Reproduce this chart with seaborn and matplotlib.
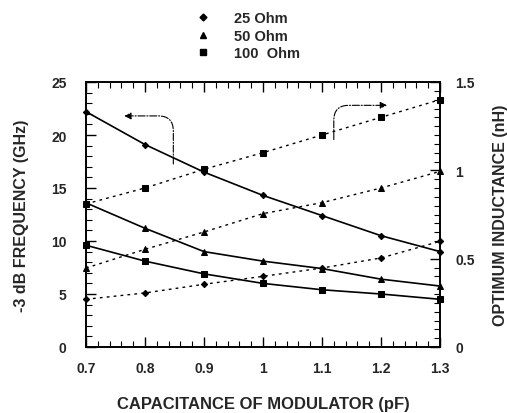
import matplotlib
matplotlib.use("Agg")
import matplotlib.pyplot as plt
import seaborn as sns
import pandas as pd
from matplotlib.lines import Line2D
from matplotlib.ticker import MultipleLocator

# ---- data ----
capacitance = [0.7, 0.8, 0.9, 1.0, 1.1, 1.2, 1.3]
series_names = ["25 Ohm", "50 Ohm", "100  Ohm"]
freq_25 = [22.2, 19.1, 16.5, 14.3, 12.4, 10.5, 9.0]
freq_50 = [13.6, 11.2, 9.0, 8.1, 7.4, 6.4, 5.75]
freq_100 = [9.6, 8.1, 6.9, 6.0, 5.4, 5.0, 4.5]
ind_25 = [0.27, 0.306, 0.355, 0.40, 0.447, 0.504, 0.598]
ind_50 = [0.447, 0.553, 0.651, 0.755, 0.817, 0.90, 0.994]
ind_100 = [0.81, 0.90, 1.006, 1.10, 1.20, 1.30, 1.40]
x_ticks = [0.7, 0.8, 0.9, 1.0, 1.1, 1.2, 1.3]
x_tick_labels = ["0.7", "0.8", "0.9", "1", "1.1", "1.2", "1.3"]
left_ticks = [0, 5, 10, 15, 20, 25]
right_ticks = [0, 0.5, 1, 1.5]
right_tick_labels = ["0", "0.5", "1", "1.5"]

sns.set_theme(style="white")
plt.rcParams['font.family'] = ['Liberation Sans', 'DejaVu Sans']
plt.rcParams['font.weight'] = 'bold'

fig = plt.figure(figsize=(5.07, 4.14), dpi=100)
ax = fig.add_axes([86/507, 1-348/414, (440-86)/507, (348-83)/414])
ax2 = ax.twinx()

markers = ["D", "^", "s"]
msizes = [3.2, 4.5, 4.8]
freqs = [freq_25, freq_50, freq_100]
inds = [ind_25, ind_50, ind_100]

for f, m, ms in zip(freqs, markers, msizes):
    df = pd.DataFrame({"C": capacitance, "F": f})
    sns.lineplot(data=df, x="C", y="F", ax=ax, color="black", marker=m,
                 markersize=ms, markeredgecolor="black", linewidth=1.2,
                 linestyle="-", clip_on=False)
for ind, m, ms in zip(inds, markers, msizes):
    df = pd.DataFrame({"C": capacitance, "L": ind})
    sns.lineplot(data=df, x="C", y="L", ax=ax2, color="black", marker=m,
                 markersize=ms, markeredgecolor="black", linewidth=1.0,
                 linestyle=(0, (2, 3)), clip_on=False)

ax.set_xlim(0.7, 1.3)
ax.set_ylim(0, 25)
ax2.set_ylim(0, 1.5)

ax.set_xticks(x_ticks)
ax.set_xticklabels(x_tick_labels)
ax.set_yticks(left_ticks)
ax.set_yticklabels([str(t) for t in left_ticks])
ax2.set_yticks(right_ticks)
ax2.set_yticklabels(right_tick_labels)
ax.xaxis.set_minor_locator(MultipleLocator(0.02))
ax.yaxis.set_minor_locator(MultipleLocator(1))
ax2.yaxis.set_minor_locator(MultipleLocator(0.05))

ax.tick_params(axis="x", which="both", direction="in", top=True, bottom=True,
               labelsize=10, pad=10, color="black")
ax.tick_params(axis="x", which="major", length=7, width=1)
ax.tick_params(axis="x", which="minor", length=4, width=0.8)
ax.tick_params(axis="y", which="both", direction="in", left=True,
               labelsize=10, pad=14, color="black")
ax.tick_params(axis="y", which="major", length=7, width=1)
ax.tick_params(axis="y", which="minor", length=4, width=0.8)
ax2.tick_params(axis="y", which="both", direction="in", right=True,
                labelsize=10, pad=11, color="black")
ax2.tick_params(axis="y", which="major", length=7, width=1)
ax2.tick_params(axis="y", which="minor", length=4, width=0.8)

for a in (ax, ax2):
    for s in a.spines.values():
        s.set_color("black")
        s.set_linewidth(1.2)

ax.set_xlabel("CAPACITANCE OF MODULATOR (pF)", fontsize=12, fontweight="bold", labelpad=15)
ax.set_ylabel("-3 dB FREQUENCY (GHz)", fontsize=11.5, fontweight="bold", labelpad=16)
ax2.set_ylabel("OPTIMUM INDUCTANCE (nH)", fontsize=11.5, fontweight="bold", labelpad=13,
               rotation=90)

# arrows
ax.annotate("", xy=(0.76, 21.8), xytext=(0.848, 17.0),
            arrowprops=dict(arrowstyle="-|>", color="black", lw=0.8, linestyle="-.",
                            connectionstyle="angle,angleA=90,angleB=0,rad=15",
                            mutation_scale=10))
ax.annotate("", xy=(1.215, 22.8), xytext=(1.12, 19.3),
            arrowprops=dict(arrowstyle="-|>", color="black", lw=0.8, linestyle="-.",
                            connectionstyle="angle,angleA=90,angleB=180,rad=15",
                            mutation_scale=10))

handles = [Line2D([], [], color="black", marker=m, linestyle="none", markersize=ms)
           for m, ms in zip(markers, [3.5, 4, 4.5])]
fig.legend(handles, series_names, loc="upper left", bbox_to_anchor=(183/507, 1.0 + 1/414),
           frameon=False, handlelength=1.0, handletextpad=1.6,
           labelspacing=0.25, prop={"weight": "bold", "size": 10.5})

fig.savefig("out.png", dpi=100, facecolor="white")
